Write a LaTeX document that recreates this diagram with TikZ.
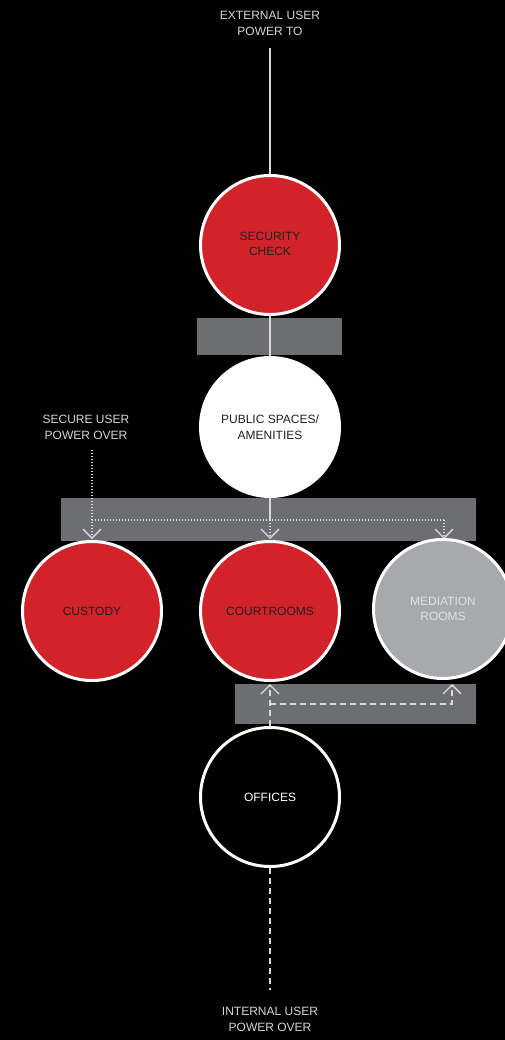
\documentclass[tikz,border=0pt]{standalone}
\usepackage{fontspec}
\setmainfont{Liberation Sans}
\usetikzlibrary{arrows.meta}
\definecolor{cred}{HTML}{D2232A}
\definecolor{cbar}{HTML}{6D6E71}
\definecolor{cmed}{HTML}{A7A9AC}
\definecolor{ctxt}{HTML}{D4D4D4}
\definecolor{cdark}{HTML}{231F20}
\begin{document}
\begin{tikzpicture}[x=1pt,y=-1pt,
  room/.style={circle, draw=white, line width=3pt, minimum size=139pt, inner sep=0pt, align=center, font=\fontsize{12}{15.5}\selectfont},
  lbl/.style={align=center, text=ctxt, font=\fontsize{12}{15.5}\selectfont},
  bar/.style={fill=cbar},
  conn/.style={draw=white!85!black, line width=1.3pt},
  dotline/.style={draw=white!85!black, line width=1.3pt, dash pattern=on 1.3pt off 1.7pt},
  dashline/.style={draw=white!85!black, line width=1.5pt, dash pattern=on 6pt off 4pt},
  tip/.style={-{Straight Barb[length=9pt,width=18pt,line width=1.3pt]}}
]
\fill[black] (0,0) rectangle (505,1040);
\useasboundingbox (0,0) rectangle (505,1040);

% bars
\fill[bar] (197,318) rectangle (342,355);
\fill[bar] (61,498) rectangle (476,541);
\fill[bar] (235,684) rectangle (476,724);

% labels
\node[lbl] (ext) at (270,23.5) {EXTERNAL USER\\POWER TO};
\node[lbl] (secu) at (86,427.5) {SECURE USER\\POWER OVER};
\node[lbl] (int) at (270,1019.5) {INTERNAL USER\\POWER OVER};

% coordinates
\coordinate (t0) at (270,48);
\coordinate (s0) at (92,450);
\coordinate (jl) at (92,520);
\coordinate (jc) at (270,520);
\coordinate (jr) at (444,520);
\coordinate (al) at (92,539);
\coordinate (ac) at (270,539);
\coordinate (ar) at (444,539);
\coordinate (bl) at (270,704);
\coordinate (br) at (452,704);
\coordinate (bt) at (452,684);
\coordinate (ct) at (270,684);
\coordinate (b0) at (270,990);

% connector behind circles
\draw[conn] (t0) -- (270,320) -- (270,500);

% circles
\node[room, fill=cred, text=cdark] (sec) at (270,245) {\raisebox{2pt}{\begin{tabular}{@{}c@{}}SECURITY\\CHECK\end{tabular}}};
\node[room, fill=white, text=cdark] (pub) at (270,427) {PUBLIC SPACES/\\AMENITIES};
\node[room, fill=cred, text=cdark] (cus) at (92,611) {CUSTODY};
\node[room, fill=cred, text=cdark] (crt) at (270,611) {COURTROOMS};
\node[room, fill=cmed, text=white!88!black] (med) at (443,609) {MEDIATION\\ROOMS};
\node[room, fill=black, text=white] (off) at (270,797) {OFFICES};

% connectors
\draw[conn] (pub) -- (jc);
\draw[dotline] (jl) -- (jr);
\draw[dotline, tip] (s0) -- (al);
\draw[dotline, tip] (jc) -- (ac);
\draw[dotline, tip] (jr) -- (ar);
\draw[dashline, tip] (off) -- (ct);
\draw[dashline, tip] (bl) -- (br) -- (bt);
\draw[dashline] (off) -- (b0);
\end{tikzpicture}
\end{document}
